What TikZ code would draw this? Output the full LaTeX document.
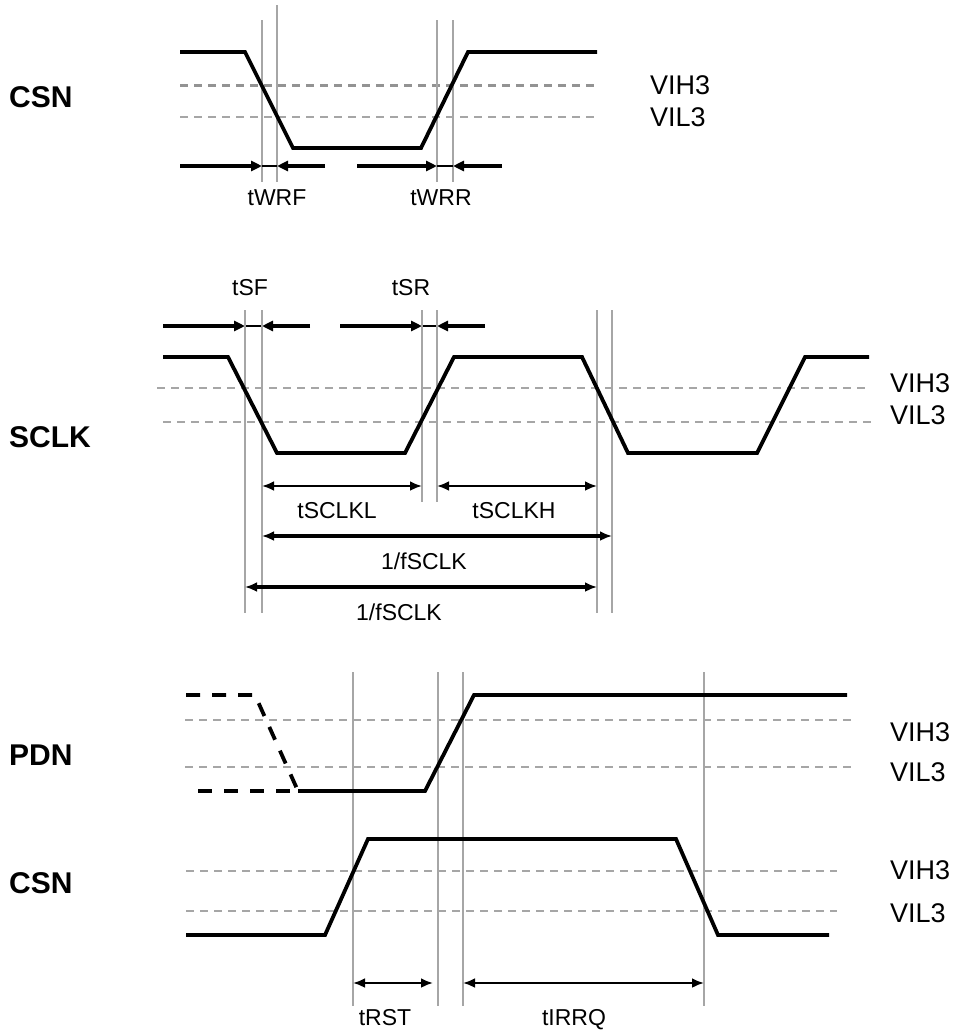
\documentclass[tikz,border=0pt]{standalone}
\usepackage{fontspec}
\setmainfont{Liberation Sans}
\usetikzlibrary{arrows.meta}
\tikzset{%
  signal/.style={line width=3.8pt, line join=miter},
  oldsignal/.style={signal, dash pattern=on 14pt off 12pt},
  level/.style={line width=2pt, gray!70, dash pattern=on 8pt off 6pt},
  guide/.style={line width=1.3pt, gray!70},
  pointer/.style={line width=3.8pt, -{Triangle[length=11pt,width=10pt]}},
  bridge/.style={line width=1.2pt},
  span/.style={line width=2.5pt,
    {Latex[length=12pt,width=10pt]}-{Latex[length=12pt,width=10pt]}},
  period/.style={span, line width=3.6pt},
  sname/.style={font=\bfseries\fontsize{30}{36}\selectfont, anchor=west, inner sep=0pt},
  lvl/.style={font=\fontsize{27}{32}\selectfont, anchor=west, inner sep=0pt},
  tlab/.style={font=\fontsize{23}{27}\selectfont, anchor=base, inner sep=0pt}
}

\begin{document}
\begin{tikzpicture}[x=1pt, y=-1pt]
  \useasboundingbox (0,0) rectangle (957,1034);

  % CSN, write timing
  \node[sname] (csnA) at (9,97) {CSN};
  \draw[level, line width=3pt, gray!85] (180,85) -- (597,85);
  \draw[level] (180,117) -- (597,117);
  \foreach \x/\t in {262/20, 277/5, 437/20, 453/20}
    \draw[guide] (\x,\t) -- (\x,182);
  \draw[signal] (180,52) -- (245,52) -- (293,148) -- (421,148) -- (468,52) -- (597,52);
  \node[lvl] (csnAhi) at (650,85) {VIH3};
  \node[lvl] (csnAlo) at (650,117) {VIL3};

  \draw[pointer] (180,166) -- (262,166);
  \draw[bridge]  (262,166) -- (277,166);
  \draw[pointer] (325,166) -- (277,166);
  \draw[pointer] (357,166) -- (437,166);
  \draw[bridge]  (437,166) -- (453,166);
  \draw[pointer] (502,166) -- (453,166);
  \node[tlab] (twrf) at (277,205) {tWRF};
  \node[tlab] (twrr) at (441,205) {tWRR};

  % SCLK
  \node[sname] (sclk) at (9,437) {SCLK};
  \node[tlab] (tsf) at (250,295) {tSF};
  \node[tlab] (tsr) at (411,295) {tSR};
  \draw[pointer] (163,326) -- (245,326);
  \draw[bridge]  (245,326) -- (262,326);
  \draw[pointer] (310,326) -- (262,326);
  \draw[pointer] (340,326) -- (422,326);
  \draw[bridge]  (422,326) -- (437,326);
  \draw[pointer] (485,326) -- (437,326);

  \draw[level] (157,388) -- (865,388);
  \draw[level] (163,422) -- (872,422);
  \foreach \x/\b in {245/613, 262/613, 422/502, 437/502, 597/613, 612/613}
    \draw[guide] (\x,310) -- (\x,\b);
  \draw[signal] (163,357) -- (228,357) -- (277,453) -- (405,453) -- (454,357)
    -- (582,357) -- (628,453) -- (757,453) -- (805,357) -- (869,357);
  \node[lvl] (sclkhi) at (890,383) {VIH3};
  \node[lvl] (sclklo) at (890,415) {VIL3};

  \draw[span] (262,486) -- (422,486);
  \draw[span] (437,486) -- (597,486);
  \node[tlab] (tsclkl) at (337,518) {tSCLKL};
  \node[tlab] (tsclkh) at (514,518) {tSCLKH};
  \draw[period] (262,536) -- (612,536);
  \node[tlab] (fsclkA) at (424,569) {1/fSCLK};
  \draw[period] (245,587) -- (597,587);
  \node[tlab] (fsclkB) at (399,620) {1/fSCLK};

  % PDN and CSN, reset timing
  \node[sname] (pdn) at (9,755) {PDN};
  \node[sname] (csnB) at (9,883) {CSN};
  \draw[level] (185,720) -- (851,720);
  \draw[level] (185,767) -- (851,767);
  \draw[level] (186,871) -- (837,871);
  \draw[level] (186,911) -- (837,911);
  \foreach \x in {353, 438, 463, 704}
    \draw[guide] (\x,672) -- (\x,1006);

  \draw[oldsignal] (186,695) -- (255,695) -- (298,791);
  \draw[oldsignal] (198,791) -- (298,791);
  \draw[signal] (298,791) -- (425,791) -- (474,695) -- (847,695);
  \draw[signal] (186,935) -- (325,935) -- (368,839) -- (676,839) -- (718,935) -- (829,935);

  \node[lvl] (pdnhi) at (890,732) {VIH3};
  \node[lvl] (pdnlo) at (890,772) {VIL3};
  \node[lvl] (csnBhi) at (890,870) {VIH3};
  \node[lvl] (csnBlo) at (890,913) {VIL3};

  \draw[span] (353,983) -- (433,983);
  \draw[span] (463,983) -- (704,983);
  \node[tlab] (trst) at (385,1025) {tRST};
  \node[tlab] (tirrq) at (574,1025) {tIRRQ};
\end{tikzpicture}
\end{document}
